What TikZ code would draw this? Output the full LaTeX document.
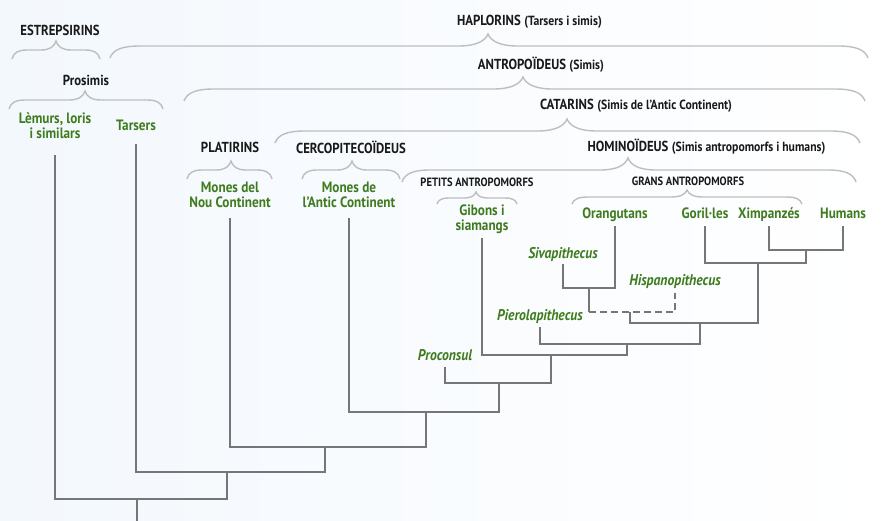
\documentclass[tikz,border=0pt]{standalone}
\usepackage{fontspec}
\setmainfont{PT Sans}[FakeStretch=0.88]
\usetikzlibrary{positioning}
\definecolor{leafgreen}{RGB}{62,124,30}
\definecolor{branchgray}{RGB}{118,118,118}
\definecolor{bracegray}{RGB}{190,190,190}
\definecolor{bgblue}{RGB}{243,248,253}
\tikzstyle{cladename} = [font=\fontsize{14.5}{15}\selectfont\bfseries, text=black!90, inner sep=1.5pt]
\tikzstyle{cladesmall} = [font=\fontsize{12}{14}\selectfont\bfseries, text=black!90, inner sep=1.5pt]
\tikzstyle{cladenote} = [font=\fontsize{13.3}{14}\selectfont\bfseries, text=black!90, inner sep=1.5pt, anchor=base west]
\tikzstyle{taxon} = [font=\fontsize{15}{15}\selectfont\bfseries, text=leafgreen, align=center, inner sep=0pt, text depth=0pt, anchor=base, outer ysep=8pt]
\tikzstyle{fossil} = [taxon, font=\fontsize{15.5}{15}\selectfont\bfseries\itshape]
\tikzstyle{branch} = [draw=branchgray, line width=2pt]
\tikzstyle{bracket} = [draw=bracegray, line width=1.4pt]
% curly bracket: left x, tip x, right x, line y, depth, curl width
\newcommand{\clade}[6]{%
  \draw[bracket] (#1,#4+#5) .. controls (#1+0.1*#6,#4+0.3*#5) and (#1+0.4*#6,#4) .. (#1+#6,#4)
    -- (#2-#6,#4) .. controls (#2-0.4*#6,#4) and (#2-0.1*#6,#4-0.4*#5) .. (#2,#4-#5)
    .. controls (#2+0.1*#6,#4-0.4*#5) and (#2+0.4*#6,#4) .. (#2+#6,#4)
    -- (#3-#6,#4) .. controls (#3-0.4*#6,#4) and (#3-0.1*#6,#4+0.3*#5) .. (#3,#4+#5);}

\begin{document}
\begin{tikzpicture}[x=1pt, y=-1pt]
	\fill[left color=bgblue, right color=white] (0,0) rectangle (881,520);
	\useasboundingbox (0,0) rectangle (881,520);

	% group names
	\node (estrep) [cladename] at (60,30) {ESTREPSIRINS};
	\node (haplo) [cladename] at (489,20) {HAPLORINS};
	\node (haplonote) [cladenote] at (haplo.base east) {(Tarsers i simis)};
	\node (prosimis) [cladename] at (86,80) {Prosimis};
	\node (antrop) [cladename] at (522,63) {ANTROPOÏDEUS};
	\node (antropnote) [cladenote] at (antrop.base east) {(Simis)};
	\node (catar) [cladename] at (567,104) {CATARINS};
	\node (catarnote) [cladenote] at (catar.base east) {(Simis de l’Antic Continent)};
	\node (platirins) [cladename] at (230,147) {PLATIRINS};
	\node (cercop) [cladename] at (351,147) {CERCOPITECOÏDEUS};
	\node (homin) [cladename] at (628,145) {HOMINOÏDEUS};
	\node (hominnote) [cladenote] at (homin.base east) {(Simis antropomorfs i humans)};
	\node (petits) [cladesmall] at (477,182) {PETITS ANTROPOMORFS};
	\node (grans) [cladesmall] at (688,181) {GRANS ANTROPOMORFS};

	% brackets
	\clade{12}{56}{100}{50}{9}{15}
	\clade{110}{488}{868}{46}{12}{30}
	\clade{9}{85}{163}{100}{9}{16}
	\clade{184}{523}{865}{89}{12}{30}
	\clade{275}{567}{860}{131}{12}{30}
	\clade{187}{231}{272}{170}{9}{15}
	\clade{302}{352}{400}{170}{9}{15}
	\clade{402}{628}{856}{170}{12}{28}
	\clade{437}{476}{517}{198}{6}{12}
	\clade{572}{687}{802}{197}{7}{16}

	% living groups and fossils
	\node (lemurs) [taxon, outer ysep=17pt] at (55,138) {Lèmurs, loris\\i similars};
	\node (tarsers) [taxon, outer ysep=14pt] at (136,130) {Tarsers};
	\node (nou) [taxon, outer ysep=11pt] at (230,207) {Mones del\\Nou Continent};
	\node (antic) [taxon, outer ysep=11pt] at (349,207) {Mones de\\l’Antic Continent};
	\node (gibons) [taxon] at (482,230) {Gibons i\\siamangs};
	\node (orang) [taxon] at (615,218) {Orangutans};
	\node (goril) [taxon] at (705,218) {Goril·les};
	\node (ximp) [taxon] at (769,218) {Ximpanzés};
	\node (humans) [taxon] at (843,218) {Humans};
	\node (siva) [fossil, outer ysep=6pt] at (563,258) {Sivapithecus};
	\node (hispano) [fossil] at (675,285) {Hispanopithecus};
	\node (pierola) [fossil, outer ysep=7pt] at (540,320) {Pierolapithecus};
	\node (proconsul) [fossil, outer ysep=7pt] at (445,360) {Proconsul};

	% branch points
	\coordinate (xh) at (806,250);
	\coordinate (gxh) at (758,263);
	\coordinate (so) at (589,288);
	\coordinate (sod) at (589,312);
	\coordinate (dash) at (630,312);
	\coordinate (great) at (700,323);
	\coordinate (pier) at (627,344);
	\coordinate (hom) at (551,355);
	\coordinate (pro) at (499,383);
	\coordinate (cat) at (426,412);
	\coordinate (ant) at (325,447);
	\coordinate (hap) at (227,472);
	\coordinate (root) at (137,499);
	\coordinate (base) at (137,522);

	\draw [branch] (ximp) |- (xh) -| (humans);
	\draw [branch] (goril) |- (gxh) -| (xh);
	\draw [branch] (siva) |- (so) -| (orang);
	\draw [branch] (so) -- (sod);
	\draw [branch, dash pattern=on 7pt off 4pt] (sod) -| (hispano);
	\draw [branch] (dash) |- (great) -| (gxh);
	\draw [branch] (pierola) |- (pier) -| (great);
	\draw [branch] (gibons) |- (hom) -| (pier);
	\draw [branch] (proconsul) |- (pro) -| (hom);
	\draw [branch] (antic) |- (cat) -| (pro);
	\draw [branch] (nou) |- (ant) -| (cat);
	\draw [branch] (tarsers) |- (hap) -| (ant);
	\draw [branch] (lemurs) |- (root) -| (hap);
	\draw [branch] (root) -- (base);
\end{tikzpicture}
\end{document}
